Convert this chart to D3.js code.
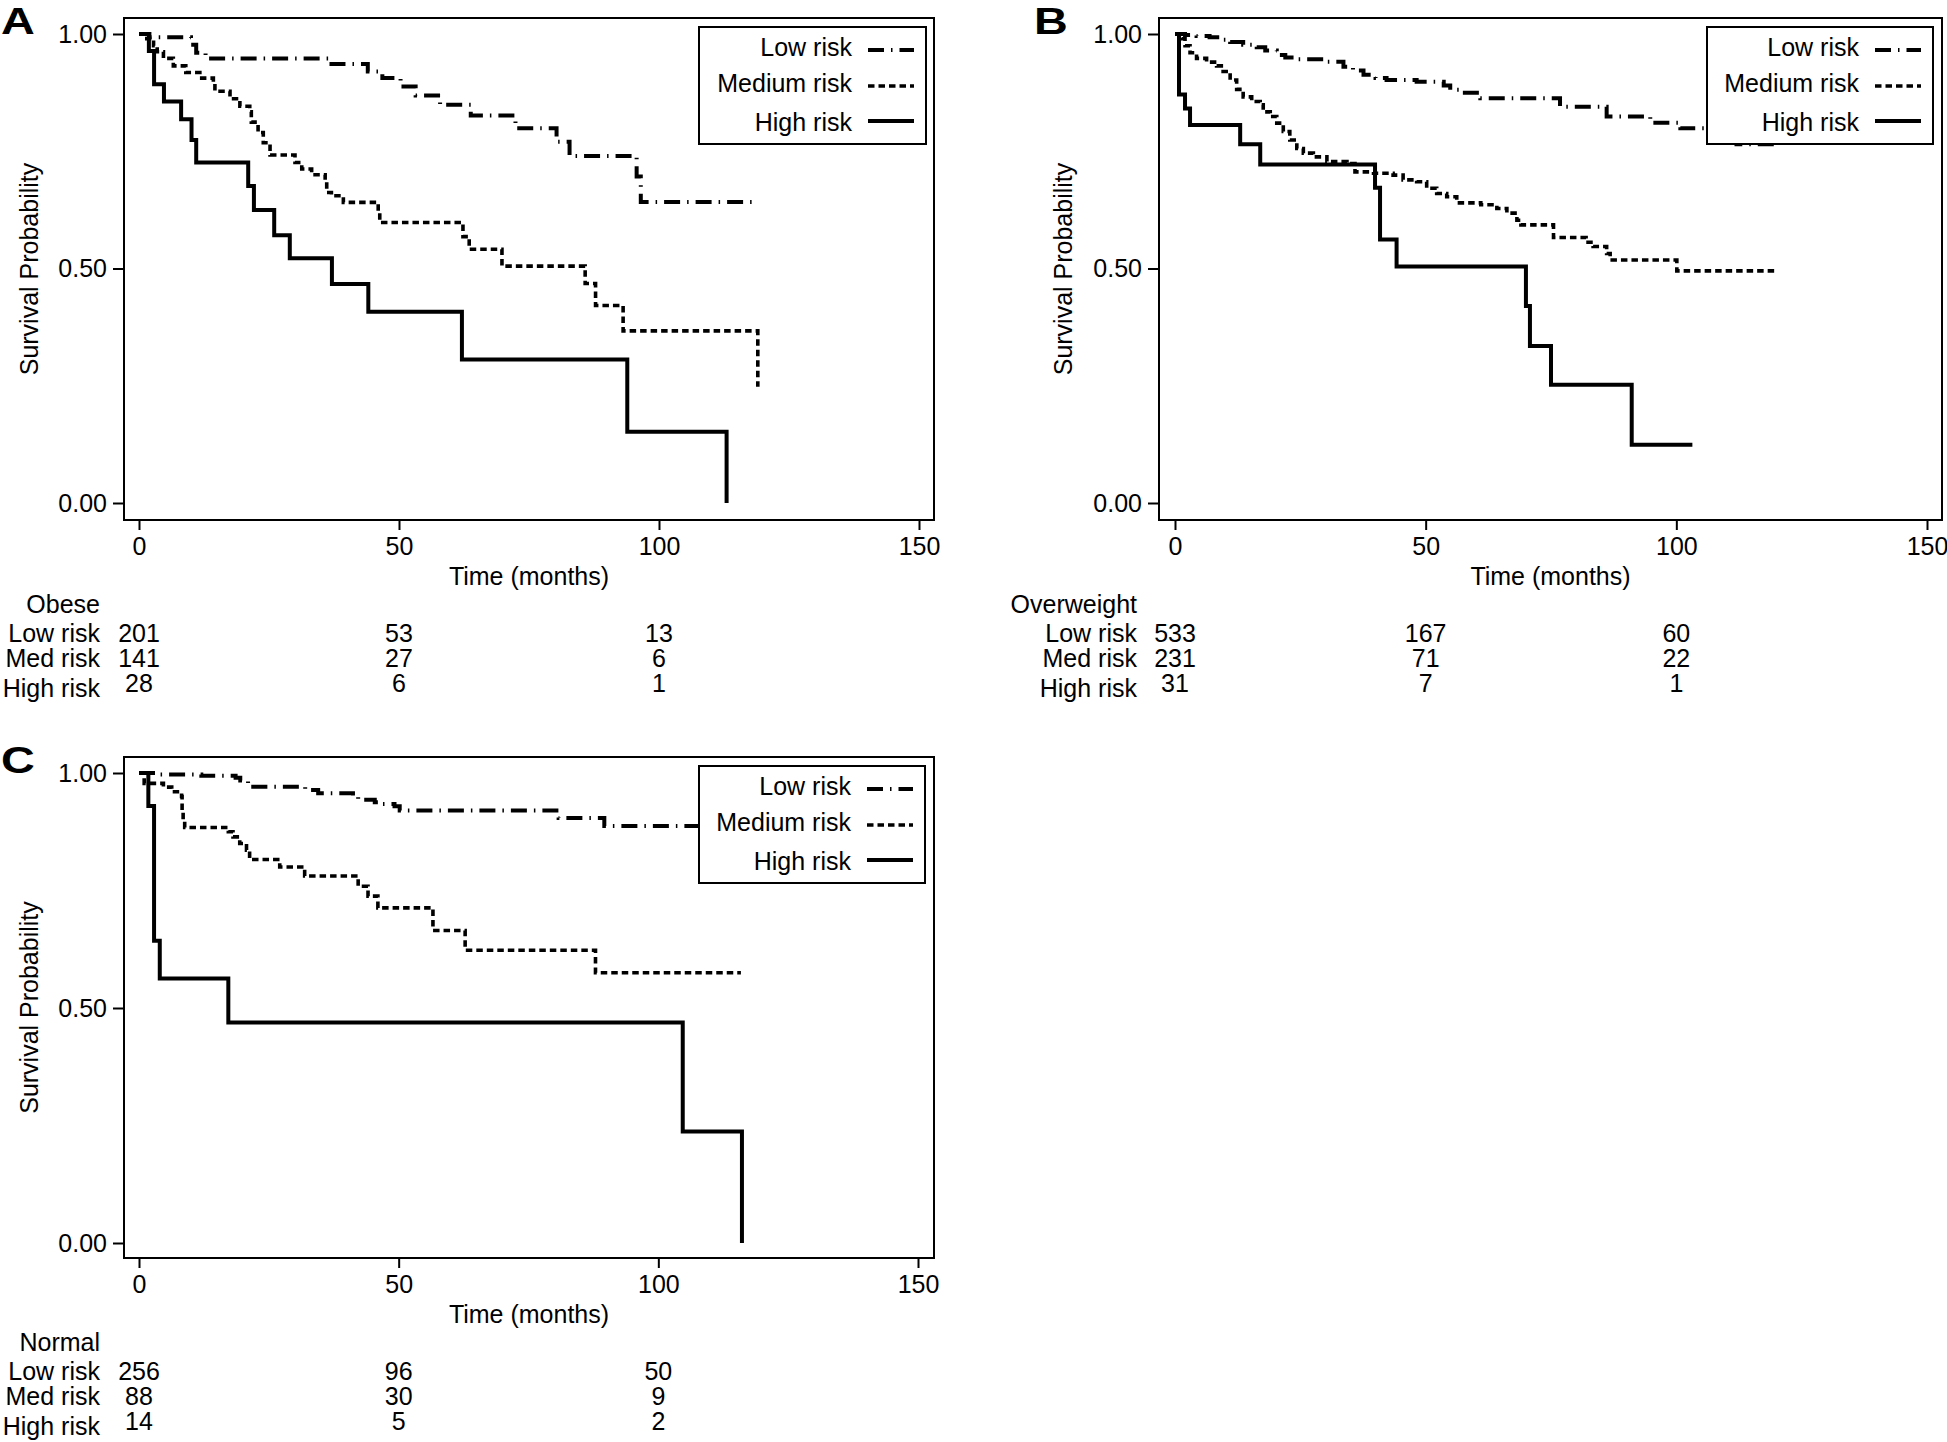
<!DOCTYPE html>
<html>
<head>
<meta charset="utf-8">
<script src="https://cdn.jsdelivr.net/npm/d3@7/dist/d3.min.js"></script>
<style>
  html, body { margin: 0; padding: 0; background: #fff; }
  svg { display: block; }
  text { font-family: "Liberation Sans", Arial, Helvetica, sans-serif; fill: #000; }
</style>
</head>
<body>
<svg id="chart" width="1947" height="1442"></svg>
<script>
// ---------------- DATA ----------------
const panelLetters = ["A", "B", "C"];
const groupNames = ["Obese", "Overweight", "Normal"];
const seriesNames = ["Low risk", "Medium risk", "High risk"];
const riskRowLabels = ["Low risk", "Med risk", "High risk"];
const timeTicks = [0, 50, 100, 150];
const survTicks = [0, 0.5, 1];
const atRiskTimes = [0, 50, 100];

// Kaplan-Meier steps: [time (months), survival after the step]
const obeseLow = [[0,1],[2,0.993],[10,0.977],[11,0.96],[12.8,0.948],[36.6,0.936],[44,0.92],[46.8,0.906],[50.3,0.888],[53.2,0.869],[57.9,0.849],[63.8,0.826],[72.4,0.799],[80.3,0.77],[82.8,0.74],[95.7,0.696],[96.5,0.642],[118.8,0.642]];
const obeseMed = [[0,1],[1.5,0.99],[2.8,0.975],[3.5,0.962],[4.7,0.948],[6.6,0.932],[9,0.918],[11.7,0.906],[14.3,0.895],[14.6,0.878],[17.5,0.862],[19.4,0.846],[21.3,0.834],[21.6,0.812],[22.9,0.79],[23.9,0.768],[25.2,0.742],[30,0.726],[31.3,0.712],[33.2,0.7],[35.8,0.688],[36.1,0.662],[37,0.655],[39.3,0.641],[46,0.62],[46.3,0.598],[62.3,0.568],[63.5,0.541],[69.8,0.505],[85.8,0.468],[87.8,0.421],[93.1,0.367],[119,0.248]];
const obeseHigh = [[0,1],[1.9,0.964],[2.9,0.893],[4.8,0.856],[8.1,0.818],[10.1,0.774],[11,0.726],[21,0.676],[22.1,0.625],[26,0.571],[29,0.522],[37.1,0.467],[44.1,0.408],[62.1,0.306],[93.9,0.152],[113,0]];

const overLow = [[0,1],[2,0.998],[4.3,0.996],[6.9,0.993],[9,0.988],[11,0.983],[13.6,0.977],[16.3,0.972],[18,0.965],[20.3,0.955],[22,0.95],[24.3,0.946],[29.6,0.941],[33.6,0.93],[35.5,0.922],[37.6,0.913],[40,0.906],[42.2,0.902],[48.2,0.898],[53.6,0.89],[54.9,0.881],[56.9,0.875],[60.9,0.863],[76.8,0.845],[86.1,0.824],[94.8,0.811],[100.8,0.799],[107,0.785],[112,0.765],[120,0.765]];
const overMed = [[0,1],[1.3,0.99],[2,0.975],[3,0.96],[4.3,0.948],[6.3,0.94],[8.3,0.932],[9.6,0.92],[11,0.902],[12.3,0.882],[13.6,0.866],[15.3,0.856],[17,0.849],[17.6,0.834],[19,0.824],[20.3,0.81],[21.6,0.792],[22.9,0.774],[24.3,0.756],[25.6,0.746],[27.6,0.738],[30.3,0.728],[34.3,0.724],[35.9,0.706],[39.6,0.703],[43.5,0.699],[45.5,0.689],[48.2,0.685],[50.2,0.671],[52.2,0.66],[54.2,0.653],[56.2,0.64],[61,0.636],[64.2,0.628],[66.2,0.618],[68.2,0.603],[69,0.593],[75.5,0.566],[82,0.556],[83.4,0.547],[86.1,0.532],[86.8,0.518],[100.1,0.495],[120,0.495]];
const overHigh = [[0,1],[0.8,0.871],[2,0.841],[3,0.806],[13,0.765],[17,0.722],[39.9,0.672],[40.9,0.562],[44.2,0.504],[70,0.42],[70.8,0.335],[75,0.252],[91.1,0.124],[103.2,0.124]];

const normLow = [[0,1],[4,0.997],[12,0.994],[18.6,0.99],[19.5,0.984],[21,0.978],[22,0.971],[32,0.964],[34.5,0.957],[41.2,0.95],[42.2,0.943],[45.4,0.938],[46.5,0.934],[49.2,0.929],[50.2,0.92],[80.8,0.904],[89.6,0.887],[116,0.887]];
const normMed = [[0,1],[1,0.978],[4.7,0.97],[6.3,0.96],[8.2,0.95],[8.3,0.92],[8.5,0.9],[8.8,0.884],[17.2,0.875],[18.1,0.864],[19.4,0.85],[20.7,0.836],[21.3,0.816],[27.1,0.8],[31.9,0.781],[42.2,0.759],[44.1,0.738],[46,0.713],[56.6,0.665],[62.8,0.623],[87.9,0.575],[115.9,0.575]];
const normHigh = [[0,1],[1.8,0.93],[2.9,0.643],[4,0.563],[17.2,0.469],[104.7,0.237],[116.1,0]];

const obeseAtRisk = [[201,53,13],[141,27,6],[28,6,1]];
const overAtRisk  = [[533,167,60],[231,71,22],[31,7,1]];
const normAtRisk  = [[256,96,50],[88,30,9],[14,5,2]];

// ---------------- LAYOUT / STYLE ----------------
const panels = [
  { letter: panelLetters[0], group: groupNames[0], curves: [obeseLow, obeseMed, obeseHigh], atRisk: obeseAtRisk,
    box: [124, 934, 18, 520], xr: [139, 919], yr: [503, 34], legend: [699, 926, 27, 144],
    ylabX: 38, letterX: 1, tableX: 100 },
  { letter: panelLetters[1], group: groupNames[1], curves: [overLow, overMed, overHigh], atRisk: overAtRisk,
    box: [1159, 1942, 18, 520], xr: [1175, 1927], yr: [503, 34], legend: [1707, 1933, 27, 144],
    ylabX: 1072, letterX: 1034, tableX: 1137 },
  { letter: panelLetters[2], group: groupNames[2], curves: [normLow, normMed, normHigh], atRisk: normAtRisk,
    box: [124, 934, 757, 1258], xr: [139, 918], yr: [1243, 773], legend: [699, 925, 766, 883],
    ylabX: 38, letterX: 1, tableX: 100 }
];

const styles = [
  { width: 4,   dash: "16,7,1.5,7" },
  { width: 3.6, dash: "6.5,4" },
  { width: 4,   dash: null }
];

const FS = 25;
const svg = d3.select("#chart");

panels.forEach(p => {
  const [bx0, bx1, by0, by1] = p.box;
  const x = d3.scaleLinear().domain([0, 150]).range(p.xr);
  const y = d3.scaleLinear().domain([0, 1]).range(p.yr);
  const g = svg.append("g");

  // plot frame
  g.append("rect")
    .attr("x", bx0).attr("y", by0)
    .attr("width", bx1 - bx0).attr("height", by1 - by0)
    .attr("fill", "none").attr("stroke", "#000").attr("stroke-width", 2);

  // x axis
  const xa = g.append("g").attr("transform", `translate(0,${by1})`)
    .call(d3.axisBottom(x).tickValues(timeTicks).tickSize(10).tickPadding(7).tickFormat(d3.format("d")));
  xa.select(".domain").remove();
  xa.selectAll("line").attr("stroke", "#000").attr("stroke-width", 2);
  xa.selectAll("text").attr("font-size", FS).attr("font-family", "Liberation Sans, Arial, sans-serif").attr("fill", "#000");

  // y axis
  const ya = g.append("g").attr("transform", `translate(${bx0},0)`)
    .call(d3.axisLeft(y).tickValues(survTicks).tickSize(11).tickPadding(6).tickFormat(d3.format(".2f")));
  ya.select(".domain").remove();
  ya.selectAll("line").attr("stroke", "#000").attr("stroke-width", 2);
  ya.selectAll("text").attr("font-size", FS).attr("font-family", "Liberation Sans, Arial, sans-serif").attr("fill", "#000");

  // axis titles
  g.append("text")
    .attr("transform", `translate(${p.ylabX},${(by0 + by1) / 2}) rotate(-90)`)
    .attr("text-anchor", "middle").attr("font-size", FS)
    .text("Survival Probability");
  g.append("text")
    .attr("x", (bx0 + bx1) / 2).attr("y", by1 + 65)
    .attr("text-anchor", "middle").attr("font-size", FS)
    .text("Time (months)");

  // panel letter
  g.append("text")
    .attr("transform", `translate(${p.letterX},${by0 + 16}) scale(1.3,1)`)
    .attr("font-family", "Liberation Serif, Times New Roman, serif")
    .attr("font-weight", "bold").attr("font-size", 36)
    .text(p.letter);

  // curves
  const line = d3.line().x(d => x(d[0])).y(d => y(d[1])).curve(d3.curveStepAfter);
  p.curves.forEach((c, i) => {
    const path = g.append("path").datum(c)
      .attr("d", line)
      .attr("fill", "none").attr("stroke", "#000")
      .attr("stroke-width", styles[i].width)
      .attr("stroke-linejoin", "miter").attr("stroke-linecap", "butt");
    if (styles[i].dash) path.attr("stroke-dasharray", styles[i].dash);
  });

  // legend
  const [lx0, lx1, ly0, ly1] = p.legend;
  const lg = g.append("g");
  lg.append("rect").attr("x", lx0).attr("y", ly0)
    .attr("width", lx1 - lx0).attr("height", ly1 - ly0)
    .attr("fill", "#fff").attr("stroke", "#000").attr("stroke-width", 2);
  const textOff = [29, 65, 104];
  const lineOff = [23, 59, 94];
  seriesNames.forEach((name, i) => {
    lg.append("text").attr("x", lx1 - 74).attr("y", ly0 + textOff[i])
      .attr("text-anchor", "end").attr("font-size", FS).text(name);
    const ln = lg.append("line")
      .attr("x1", lx1 - 58).attr("x2", lx1 - 12)
      .attr("y1", ly0 + lineOff[i]).attr("y2", ly0 + lineOff[i])
      .attr("stroke", "#000").attr("stroke-width", styles[i].width);
    if (styles[i].dash) ln.attr("stroke-dasharray", styles[i].dash);
  });

  // number-at-risk table
  const tg = g.append("g");
  tg.append("text").attr("x", p.tableX).attr("y", by1 + 93)
    .attr("text-anchor", "end").attr("font-size", FS).text(p.group);
  const labelOff = [122, 147, 177];
  const numOff = [122, 147, 172];
  riskRowLabels.forEach((lab, r) => {
    tg.append("text").attr("x", p.tableX).attr("y", by1 + labelOff[r])
      .attr("text-anchor", "end").attr("font-size", FS).text(lab);
    p.atRisk[r].forEach((n, k) => {
      tg.append("text").attr("x", x(atRiskTimes[k])).attr("y", by1 + numOff[r])
        .attr("text-anchor", "middle").attr("font-size", FS).text(n);
    });
  });
});
</script>
</body>
</html>
